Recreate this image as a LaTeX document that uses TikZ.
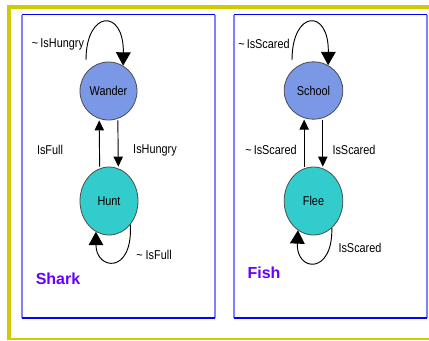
\documentclass[tikz,border=0pt]{standalone}
\usepackage{fontspec}
\setmainfont{Liberation Sans}
\newfontfamily\lblfont[FakeStretch=0.85]{Liberation Sans}
\usetikzlibrary{shapes.geometric,arrows.meta,positioning}

\definecolor{framegold}{RGB}{206,204,0}
\definecolor{paneltop}{RGB}{0,0,255}
\definecolor{paneledge}{RGB}{128,128,255}
\definecolor{calmblue}{RGB}{122,152,230}
\definecolor{alertcyan}{RGB}{51,204,204}
\definecolor{titlepurple}{RGB}{102,0,255}

\tikzset{
  state/.style={ellipse,draw=black!70,line width=0.6pt,inner sep=0pt,
    font=\lblfont\fontsize{9.6}{11}\selectfont},
  lbl/.style={font=\lblfont\fontsize{9.6}{11}\selectfont,inner sep=0pt},
  title/.style={font=\bfseries\fontsize{12}{14}\selectfont,text=titlepurple,inner sep=0pt},
  flowarrow/.style={line width=0.7pt,-{Triangle[length=7.5pt,width=7pt]}},
  looparrow/.style={line width=0.7pt,-{Triangle[length=10pt,width=11pt]}}
}

\begin{document}
\begin{tikzpicture}[x=0.75pt,y=-0.75pt]
    \useasboundingbox (0,0) rectangle (429,340);
    \fill[white] (0,0) rectangle (429,340);

    % Outer frame
    \fill[framegold] (7,5) rectangle (429,9);
    \fill[framegold] (7,5) rectangle (11,340);
    \draw[framegold,line width=1pt] (7,339) -- (429,339);

    % Shark panel
    \draw[paneledge,line width=0.9pt] (22,14.5) -- (22,318);
    \draw[paneledge,line width=0.9pt] (215,14.5) -- (215,318);
    \draw[paneltop,line width=0.9pt] (22,14.5) -- (215,14.5);
    \draw[paneltop,line width=0.9pt] (22,318) -- (215,318);

    % Fish panel
    \draw[paneledge,line width=0.9pt] (234,14.5) -- (234,318);
    \draw[paneledge,line width=1.6pt] (427,14.5) -- (427,318);
    \draw[paneltop,line width=0.9pt] (234,14.5) -- (427,14.5);
    \draw[paneltop,line width=0.9pt] (234,318) -- (427,318);

    % Shark states
    \node[state,fill=calmblue,minimum width=42.75pt,minimum height=43.5pt] (wander) at (108.5,91) {Wander};
    \node[state,fill=alertcyan,minimum width=43.5pt,minimum height=51pt] (hunt) at (109,201) {Hunt};

    % Shark transitions
    \coordinate (wanderLoopStart) at (86,60);
    \draw[looparrow] (wanderLoopStart) .. controls (86,10) and (124,8) .. (wander.60);
    \draw[flowarrow] ([xshift=7pt]wander.south) -- ([xshift=7pt]hunt.north);
    \draw[flowarrow] ([xshift=-7pt]hunt.north) -- ([xshift=-7pt]wander.south);
    \draw[looparrow] (hunt.-48) .. controls (133,275) and (96,270) .. (hunt.-113);

    \node[lbl] (lblWanderLoop) at (58,44) {\textasciitilde\,IsHungry};
    \node[lbl] (lblIsFull) at (50,150) {IsFull};
    \node[lbl] (lblIsHungry) at (155,150) {IsHungry};
    \node[lbl] (lblHuntLoop) at (154,255) {\textasciitilde{} IsFull};
    \node[title] (sharkTitle) at (58,279) {Shark};

    % Fish states
    \node[state,fill=calmblue,minimum width=44pt,minimum height=43pt] (school) at (313.5,90.5) {School};
    \node[state,fill=alertcyan,minimum width=44pt,minimum height=51pt] (flee) at (313.5,201) {Flee};

    % Fish transitions
    \coordinate (schoolLoopStart) at (292,60);
    \draw[looparrow] (schoolLoopStart) .. controls (292,10) and (329,8) .. (school.60);
    \draw[flowarrow] ([xshift=7pt]school.south) -- ([xshift=7pt]flee.north);
    \draw[flowarrow] ([xshift=-7pt]flee.north) -- ([xshift=-7pt]school.south);
    \draw[looparrow] (flee.-56) .. controls (333,275) and (296,272) .. (flee.-118);

    \node[lbl] (lblSchoolLoop) at (264,44) {\textasciitilde\,IsScared};
    \node[lbl] (lblNotScared) at (271,150) {\textasciitilde\,IsScared};
    \node[lbl] (lblIsScared) at (354,150) {IsScared};
    \node[lbl] (lblFleeLoop) at (360,248) {IsScared};
    \node[title] (fishTitle) at (264,273) {Fish};

\end{tikzpicture}
\end{document}
